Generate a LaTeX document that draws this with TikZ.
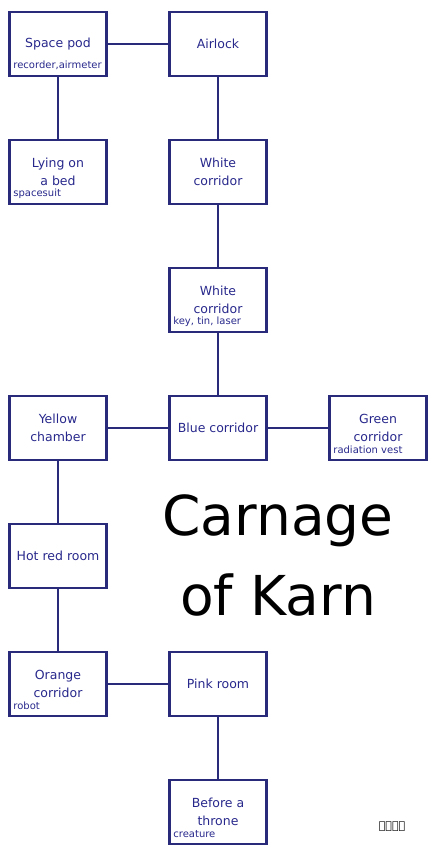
\documentclass[tikz,border=0pt]{standalone}
\usepackage{fontspec}
\setmainfont{DejaVu Sans}
\newfontfamily\runefont{DejaVu Sans}
\definecolor{mapline}{RGB}{42,42,122}
\definecolor{maptext}{RGB}{40,40,140}

\begin{document}
\begin{tikzpicture}
[x=1pt,y=-1pt,
  linedecorate/.style={-,line width=2.6pt,draw=mapline},%
  roomdecorate/.style={shape=rectangle,draw=mapline,line width=2.6pt,minimum width=97pt,minimum height=64pt,
    inner sep=0pt,align=center,text=maptext,font=\fontsize{12.5}{18}\selectfont},%
  itemdecorate/.style={anchor=south west,inner sep=0pt,text=maptext,font=\fontsize{10}{10}\selectfont},%
  titledecorate/.style={font=\fontsize{55}{80}\selectfont,align=center}]
\useasboundingbox (0,0) rectangle (442,864);
%% rooms of the map
%% columns at x = 58, 218, 378
%% rows every 128 from y = 44
\foreach \nodename/\x/\y/\txt in {
pod/58/44/{Space pod}, airlock/218/44/{Airlock},
bed/58/172/{Lying on\\a bed}, whiteA/218/172/{White\\corridor},
whiteB/218/300/{White\\corridor},
yellow/58/428/{Yellow\\chamber}, blue/218/428/{Blue corridor}, green/378/428/{Green\\corridor},
hotred/58/556/{Hot red room},
orange/58/684/{Orange\\corridor}, pink/218/684/{Pink room},
throne/218/812/{Before a\\throne}}
{
  \node (\nodename) at (\x,\y) [roomdecorate] {\txt};
}
%% things found in the rooms
\foreach \nodename/\txt in {
pod/{recorder,airmeter}, bed/spacesuit, whiteB/{key, tin, laser},
green/{radiation vest}, orange/robot, throne/creature}
{
  \node (\nodename-items) at ([xshift=5pt,yshift=7pt]\nodename.south west) [itemdecorate] {\txt};
}
%% passages
\path
\foreach \startnode/\endnode in {
pod/airlock, pod/bed, airlock/whiteA, whiteA/whiteB, whiteB/blue,
blue/yellow, blue/green, yellow/hotred, hotred/orange, orange/pink, pink/throne}
{
  (\startnode) edge[linedecorate] (\endnode)
};
%% title and signature
\node (title) at (278,555) [titledecorate] {Carnage\\of Karn};
\node (sign) at (392,827) {\runefont\fontsize{11}{12}\selectfont ᚨᛚᛗᛉ};
\end{tikzpicture}
\end{document}
